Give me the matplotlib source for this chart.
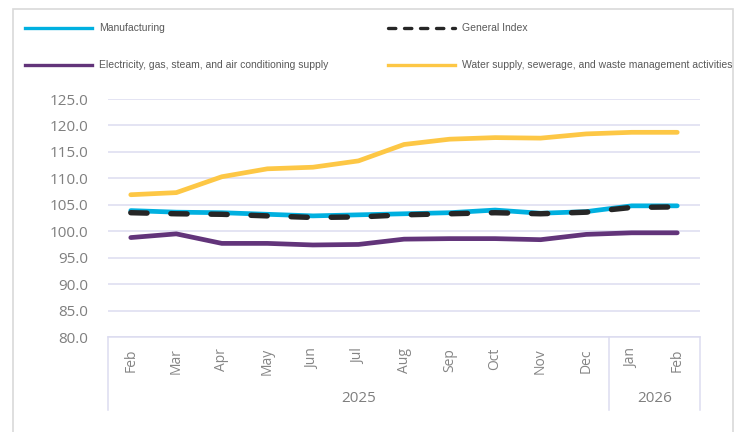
import matplotlib
matplotlib.use("Agg")
import matplotlib.pyplot as plt
from matplotlib.patches import Rectangle
from matplotlib.lines import Line2D
import matplotlib.transforms as mtransforms

months = ["Feb", "Mar", "Apr", "May", "Jun", "Jul", "Aug", "Sep", "Oct", "Nov", "Dec", "Jan", "Feb"]
years = ["2025", "2026"]
year_counts = [11, 2]

manufacturing = [103.9, 103.6, 103.5, 103.2, 102.9, 103.1, 103.3, 103.5, 104.0, 103.4, 103.7, 104.8, 104.8]
general_index = [103.5, 103.3, 103.2, 102.9, 102.6, 102.7, 103.1, 103.3, 103.5, 103.3, 103.6, 104.5, 104.6]
electricity = [98.8, 99.5, 97.7, 97.7, 97.4, 97.5, 98.5, 98.6, 98.6, 98.4, 99.4, 99.7, 99.7]
water = [106.9, 107.3, 110.3, 111.8, 112.1, 113.3, 116.4, 117.4, 117.7, 117.6, 118.4, 118.7, 118.7]

labels = ["Manufacturing", "General Index",
          "Electricity, gas, steam, and air conditioning supply",
          "Water supply, sewerage, and waste management activities"]
colors = {"man": "#00B0E0", "gen": "#262626", "ele": "#62347A", "wat": "#FDC745"}

plt.rcParams['font.family'] = ['Open Sans', 'DejaVu Sans']

W, H = 742, 432
fig = plt.figure(figsize=(W / 100, H / 100), dpi=100)

def fx(px):
    return px / W

def fy(py):
    return 1 - py / H

# outer border
fig.patches.append(Rectangle((fx(13), fy(440)), fx(733) - fx(13), fy(9) - fy(440),
                             transform=fig.transFigure, fill=False, edgecolor="#D9D9D9",
                             linewidth=1.2))

ax_left, ax_right, ax_top, ax_bottom = 108, 700, 99, 337
ax = fig.add_axes([fx(ax_left), fy(ax_bottom), fx(ax_right) - fx(ax_left), fy(ax_top) - fy(ax_bottom)])

x = list(range(len(months)))
lw = 3.4
ax.plot(x, water, color=colors["wat"], lw=lw, solid_capstyle="round", zorder=3)
ax.plot(x, electricity, color=colors["ele"], lw=lw, solid_capstyle="round", zorder=3)
ax.plot(x, manufacturing, color=colors["man"], lw=lw, solid_capstyle="round", zorder=3)
ax.plot(x, general_index, color=colors["gen"], lw=3.9, linestyle=(0, (3.0, 4.4)),
        dash_capstyle="round", zorder=4)

ax.set_xlim(-0.5, len(months) - 0.5)
ax.set_ylim(80, 125)
yt = [80 + 5 * i for i in range(10)]
ax.set_yticks(yt)
ax.set_yticklabels([f"{v:.1f}" for v in yt], fontsize=11, color="#7F7F7F")
ax.yaxis.grid(True, color="#DCDCF0", lw=1.1)
ax.set_axisbelow(True)
for s in ax.spines.values():
    s.set_visible(False)
ax.tick_params(axis="y", length=0, pad=14)
ax.set_xticks(x)
ax.set_xticklabels(months, rotation=90, fontsize=10, color="#858585")
ax.tick_params(axis="x", length=0, pad=8)

# category box
trans = mtransforms.blended_transform_factory(ax.transData, ax.transAxes)
box_bottom = -(410 - ax_bottom) / (ax_bottom - ax_top)
boundaries = [-0.5]
for c in year_counts:
    boundaries.append(boundaries[-1] + c)
box_col = "#DCDCF0"
ax.plot([boundaries[0], boundaries[-1]], [0, 0], transform=trans, color=box_col, lw=1.1, clip_on=False)
for b in boundaries:
    ax.plot([b, b], [0, box_bottom], transform=trans, color=box_col, lw=1.1, clip_on=False)
year_y = -(398 - ax_bottom) / (ax_bottom - ax_top)
for i, yr in enumerate(years):
    cx = (boundaries[i] + boundaries[i + 1]) / 2
    ax.text(cx, year_y, yr, transform=trans, ha="center", va="center", fontsize=11, color="#7F7F7F")

# legend
leg_font = ['Liberation Sans Narrow', 'Liberation Sans', 'DejaVu Sans']
entries = [
    (25, 28, colors["man"], "-", labels[0]),
    (388, 28, colors["gen"], (0, (2.2, 2.6)), labels[1]),
    (25, 65, colors["ele"], "-", labels[2]),
    (388, 65, colors["wat"], "-", labels[3]),
]
for lx, ly, c, ls, lab in entries:
    fig.lines.append(Line2D([fx(lx), fx(lx + 67)], [fy(ly), fy(ly)], transform=fig.transFigure,
                            color=c, lw=2.4, linestyle=ls, dash_capstyle="round"))
    fig.text(fx(lx + 74), fy(ly), lab, ha="left", va="center", fontsize=7.5,
             color="#595959", family=leg_font)

fig.savefig("out.png", dpi=100)
